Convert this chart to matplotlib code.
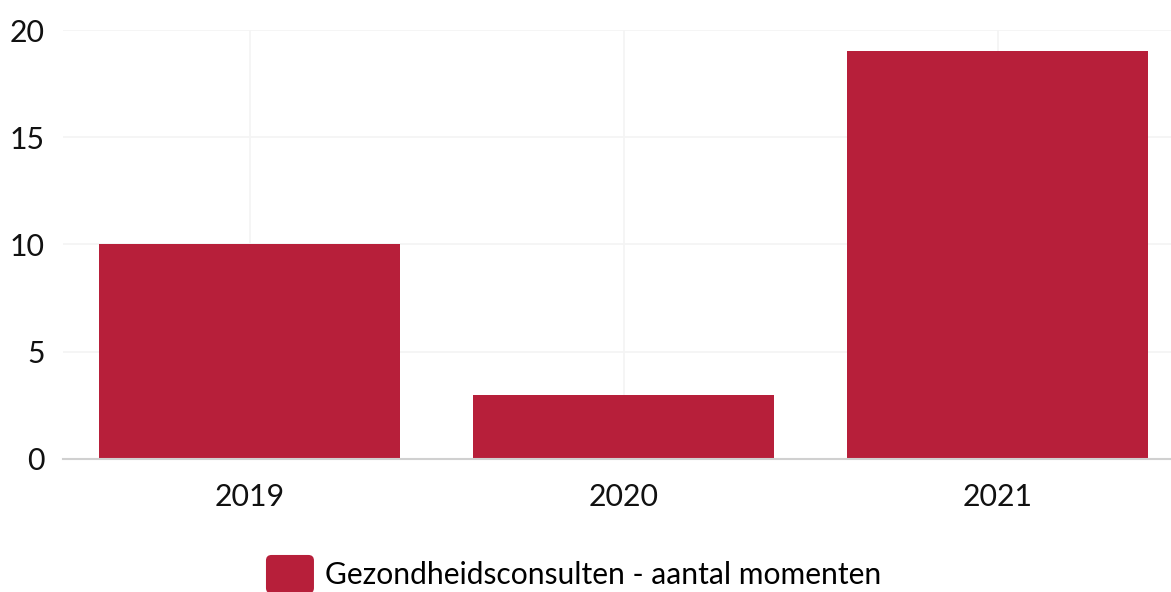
import matplotlib.pyplot as plt
from matplotlib.legend_handler import HandlerPatch
from matplotlib.patches import FancyBboxPatch, Patch

plt.rcParams["font.family"] = ["Lato", "DejaVu Sans"]

years = ["2019", "2020", "2021"]
consulten = [10, 3, 19]
series_label = "Gezondheidsconsulten - aantal momenten"
bar_color = "#B71F3A"


class RoundedHandler(HandlerPatch):
    def create_artists(self, legend, orig_handle, xdescent, ydescent,
                       width, height, fontsize, trans):
        box = FancyBboxPatch(
            (-xdescent, -ydescent), width, height,
            boxstyle="round,pad=0,rounding_size=4",
            facecolor=orig_handle.get_facecolor(), edgecolor="none",
            transform=trans,
        )
        return [box]


fig = plt.figure(figsize=(11.71, 5.92), dpi=100)
# plot area runs a little past the right edge of the picture
ax = fig.add_axes([0.0538, 0.2247, 0.958, 0.7246])

x = range(len(years))
ax.bar(x, consulten, width=0.805, color=bar_color, zorder=3)

ax.set_xlim(-0.5, len(years) - 0.5)
ax.set_ylim(0, 20)
ax.set_yticks([0, 5, 10, 15, 20])
ax.set_xticks(list(x))
ax.set_xticklabels(years)

ax.grid(True, color="#f4f4f4", linewidth=1.2, zorder=0)
for side in ["top", "right", "left"]:
    ax.spines[side].set_visible(False)
ax.spines["bottom"].set_color("#d0d0d0")
ax.spines["bottom"].set_linewidth(1.5)
ax.spines["bottom"].set_zorder(4)

ax.tick_params(axis="both", length=0, labelsize=21.8, colors="#111111")
ax.tick_params(axis="y", pad=13)
ax.tick_params(axis="x", pad=17)

handle = Patch(facecolor=bar_color, label=series_label)
fig.legend(
    handles=[handle], loc="center", bbox_to_anchor=(0.49, 0.03),
    frameon=False, fontsize=21.6, handlelength=1.6, handleheight=1.6,
    handletextpad=0.38, borderpad=0,
    handler_map={Patch: RoundedHandler()},
)

fig.savefig("out.png", dpi=100)
